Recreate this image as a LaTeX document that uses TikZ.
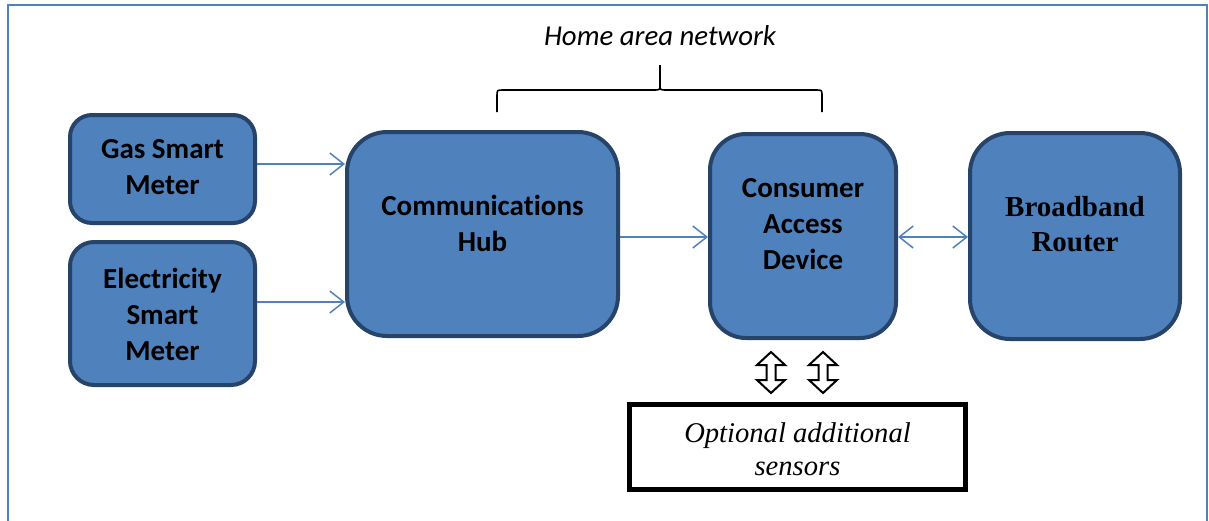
\documentclass[tikz,border=0pt]{standalone}
\usepackage{fontspec}
\setmainfont{Carlito}[Ligatures=NoCommon]
\newfontfamily\tnr{Liberation Serif}
\usetikzlibrary{arrows.meta,calc}
\definecolor{fillblue}{HTML}{4F81BD}
\definecolor{edgeblue}{HTML}{26436A}
\definecolor{lineblue}{HTML}{4F81BD}
\begin{document}
\begin{tikzpicture}[x=1pt,y=-1pt,
  box/.style={draw=edgeblue, line width=4pt, fill=fillblue, rounded corners=#1, inner sep=0pt},
  lbl/.style={align=center, font=\fontsize{29}{36}\selectfont\bfseries, inner sep=0pt},
  conn/.style={draw=lineblue, line width=1.5pt, -{Straight Barb[length=14pt,width=22pt,line width=1.5pt]}},
  bconn/.style={draw=lineblue, line width=1.5pt, {Straight Barb[length=14pt,width=22pt,line width=1.5pt]}-{Straight Barb[length=14pt,width=22pt,line width=1.5pt]}},
  pics/udarrow/.style={code={
    \draw[line width=2pt, fill=white, line join=miter]
      (0,-20.5) -- (14,-7.5) -- (4.5,-7.5) -- (4.5,7.5) -- (14,7.5) -- (0,20.5)
      -- (-14,7.5) -- (-4.5,7.5) -- (-4.5,-7.5) -- (-14,-7.5) -- cycle;
  }}
]
\useasboundingbox (0,0) rectangle (1209,520);
% frame
\draw[lineblue, line width=2pt] (8,522) -- (8,5) -- (1207,5) -- (1207,522);

% boxes
\node[box=22pt, minimum width=185pt, minimum height=108pt] (gas) at (162.5,169) {};
\node[box=24pt, minimum width=185pt, minimum height=143pt] (elec) at (162.5,313.5) {};
\node[box=40pt, minimum width=271pt, minimum height=204pt] (hub) at (482.5,234) {};
\node[box=36pt, minimum width=186pt, minimum height=204pt] (cad) at (803,236) {};
\node[box=40pt, minimum width=210pt, minimum height=206pt] (router) at (1075,236) {};
\node[draw=black, line width=5pt, fill=white, minimum width=336pt, minimum height=85pt, inner sep=0pt] (opt) at (797.5,447) {};

% labels
\node[lbl] (gasl) at (162.5,167) {Gas Smart\\Meter};
\node[lbl] (elecl) at (162.5,314) {Electricity\\Smart\\Meter};
\node[lbl] (hubl) at (482.5,223) {Communications\\Hub};
\node[lbl] (cadl) at (803,224) {Consumer\\Access\\Device};
\node[align=center, inner sep=0pt, font=\tnr\fontsize{29}{35}\selectfont\bfseries] (routerl) at (1075,224) {Broadband\\Router};
\node[align=center, inner sep=0pt, font=\tnr\fontsize{28.6}{33}\selectfont\itshape] (optl) at (797.5,449) {Optional additional\\sensors};
\node[inner sep=0pt, font=\fontsize{28.8}{34}\selectfont\itshape] (han) at (660,36) {Home area network};

% brace
\coordinate (bl) at (497,112);
\coordinate (br) at (822,112);
\coordinate (btip) at (660,65);
\draw[line width=1.6pt] (bl) -- (497,96) .. controls (497,90) .. (503,90) -- (654,90)
  .. controls (660,90) .. (660,84) -- (btip) -- (660,84)
  .. controls (660,90) .. (666,90) -- (816,90) .. controls (822,90) .. (822,96) -- (br);

% connectors
\coordinate (g1) at (gas.east |- 0,164);
\coordinate (e1) at (elec.east |- 0,302);
\coordinate (h1) at (hub.east |- 0,237);
\draw[conn] (g1) -- (g1 -| hub.west);
\draw[conn] (e1) -- (e1 -| hub.west);
\draw[conn] (h1) -- (h1 -| cad.west);
\coordinate (c1) at (cad.east |- 0,237);
\draw[bconn] (c1) -- (c1 -| router.west);

% up-down arrows
\pic (ud1) at (771,372.5) {udarrow};
\pic (ud2) at (823,372.5) {udarrow};
\end{tikzpicture}
\end{document}
